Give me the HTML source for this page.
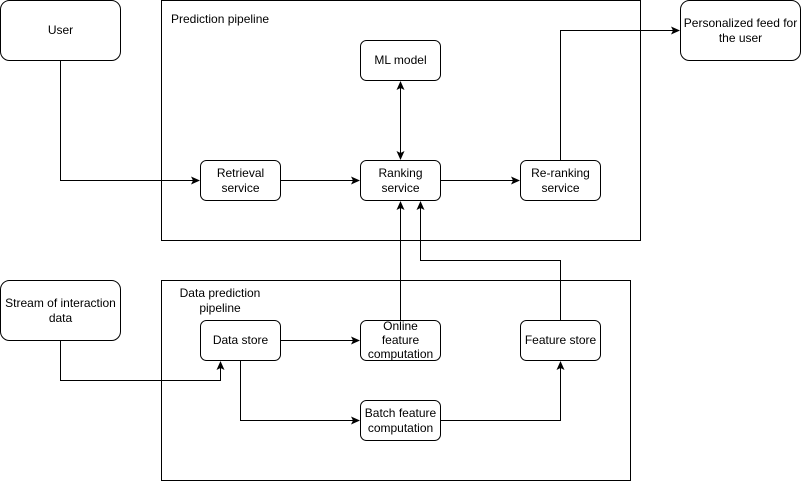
<!DOCTYPE html>
<html><head><style>body{margin:0;background:#fff}svg{display:block}text{font-family:"Liberation Sans",Helvetica,sans-serif;font-size:12px;fill:#000}</style></head><body>
<svg width="801" height="481" viewBox="0 0 801 481" xmlns="http://www.w3.org/2000/svg">
<defs><marker id="a" markerWidth="10" markerHeight="10" refX="8" refY="4" orient="auto" markerUnits="userSpaceOnUse"><path d="M0,0 L9,4 L0,8 L2,4 Z" fill="#000"/></marker></defs>
<g fill="#fff" stroke="#000" stroke-width="1">
<rect x="161.5" y="0.5" width="479" height="240"/>
<rect x="161.5" y="280.5" width="469" height="200"/>
<rect x="0.5" y="0.5" width="120" height="60" rx="9"/>
<rect x="680.5" y="0.5" width="120" height="60" rx="9"/>
<rect x="0.5" y="280.5" width="120" height="60" rx="9"/>
<rect x="360.5" y="40.5" width="80" height="40" rx="6"/>
<rect x="200.5" y="160.5" width="80" height="40" rx="6"/>
<rect x="360.5" y="160.5" width="80" height="40" rx="6"/>
<rect x="520.5" y="160.5" width="80" height="40" rx="6"/>
<rect x="200.5" y="320.5" width="80" height="40" rx="6"/>
<rect x="360.5" y="320.5" width="80" height="40" rx="6"/>
<rect x="520.5" y="320.5" width="80" height="40" rx="6"/>
<rect x="360.5" y="400.5" width="80" height="40" rx="6"/>
</g>
<g fill="none" stroke="#000" stroke-width="1">
<path d="M60.5,61 V180.5 H199" marker-end="url(#a)"/>
<path d="M281,180.5 H359" marker-end="url(#a)"/>
<path d="M441,180.5 H519" marker-end="url(#a)"/>
<path d="M400.5,120 V82" marker-end="url(#a)"/>
<path d="M400.5,120 V159" marker-end="url(#a)"/>
<path d="M560.5,160 V30.5 H679" marker-end="url(#a)"/>
<path d="M400.5,320 V202" marker-end="url(#a)"/>
<path d="M560.5,320 V260.5 H420.5 V202" marker-end="url(#a)"/>
<path d="M60.5,341 V380.5 H220.5 V362" marker-end="url(#a)"/>
<path d="M281,340.5 H359" marker-end="url(#a)"/>
<path d="M240.5,361 V420.5 H359" marker-end="url(#a)"/>
<path d="M441,420.5 H560.5 V362" marker-end="url(#a)"/>
</g>
<g text-anchor="middle">
<text x="60.5" y="34">User</text>
<text x="740.5" y="27">Personalized feed for</text><text x="740.5" y="42">the user</text>
<text x="60.5" y="307">Stream of interaction</text><text x="60.5" y="322">data</text>
<text x="400.5" y="64">ML model</text>
<text x="240.5" y="177">Retrieval</text><text x="240.5" y="192">service</text>
<text x="400.5" y="177">Ranking</text><text x="400.5" y="192">service</text>
<text x="560.5" y="177">Re-ranking</text><text x="560.5" y="192">service</text>
<text x="240.5" y="344">Data store</text>
<text x="400.5" y="330">Online</text><text x="400.5" y="344">feature</text><text x="400.5" y="358">computation</text>
<text x="560.5" y="344">Feature store</text>
<text x="400.5" y="417">Batch feature</text><text x="400.5" y="432">computation</text>
<text x="220" y="297">Data prediction</text><text x="220" y="312">pipeline</text>
</g>
<text x="171" y="23">Prediction pipeline</text>
</svg>
</body></html>
